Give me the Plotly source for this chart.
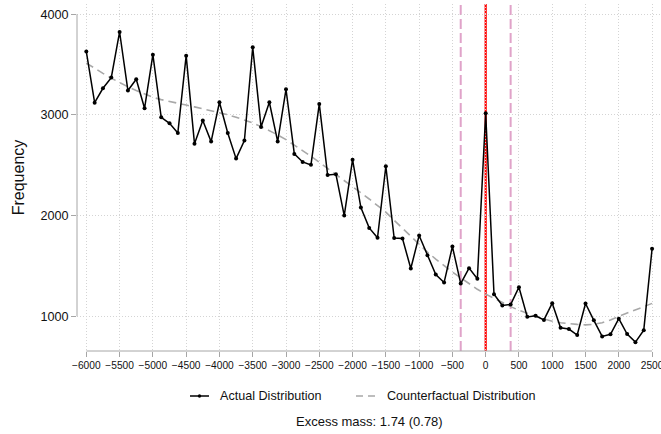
import plotly.graph_objects as go

# Bin grid (bin width 125) around the threshold at 0
bin_x = list(range(-6000, 2501, 125))

# Observed frequency per bin
actual_freq = [
    3629, 3122, 3265, 3371, 3824, 3242, 3354, 3066, 3599, 2977,
    2917, 2821, 3589, 2715, 2944, 2735, 3126, 2821, 2566, 2745,
    3672, 2881, 3126, 2735, 3255, 2613, 2533, 2504, 3109, 2404,
    2411, 2000, 2556, 2080, 1878, 1780, 2490, 1777, 1772, 1474,
    1802, 1607, 1415, 1335, 1693, 1325, 1478, 1372, 3017, 1219,
    1107, 1117, 1289, 994, 1004, 964, 1130, 886, 873, 814,
    1127, 960, 800, 821, 976, 824, 743, 862, 1671,
]

# Fitted counterfactual frequency per bin
counterfactual_freq = [
    3515, 3462, 3413, 3365, 3320, 3280, 3242, 3207, 3175, 3152,
    3132, 3114, 3098, 3080, 3062, 3044, 3025, 3002, 2977, 2950,
    2920, 2884, 2845, 2802, 2755, 2701, 2646, 2589, 2530, 2470,
    2410, 2350, 2290, 2228, 2165, 2100, 2035, 1953, 1872, 1790,
    1710, 1638, 1568, 1502, 1440, 1382, 1322, 1268, 1220, 1176,
    1135, 1096, 1060, 1028, 1000, 974, 950, 936, 926, 919,
    915, 920, 936, 962, 1000, 1030, 1062, 1095, 1128,
]

# Threshold and excluded window
threshold = 0
window_low, window_high = -375, 375

x_ticks = list(range(-6000, 2501, 500))
x_tick_text = [str(v).replace("-", "\u2212") for v in x_ticks]
y_ticks = [1000, 2000, 3000, 4000]
y_tick_text = [str(v) for v in y_ticks]

legend_labels = ["Actual Distribution", "Counterfactual Distribution"]
note_text = "Excess mass: 1.74 (0.78)"

W, H = 661, 434
ML, MR, MT, MB = 77, 0, 4, 83
PW, PH = W - ML - MR, H - MT - MB
X_RANGE = [-6140, 2634]
Y_RANGE = [655, 4102]

FONT = "Liberation Sans, Arial, Helvetica, sans-serif"
TXT = "#111111"
AXIS_GRAY = "#a6a6a6"
GRID = "#d4d4d4"


def px_x(p):
    return (p - ML) / PW


def px_y(p):
    return (H - MB - p) / PH


fig = go.Figure()

fig.add_trace(go.Scatter(
    x=bin_x, y=counterfactual_freq, mode="lines",
    line=dict(color="#a8a8a8", width=1.6, dash="8px,5px"),
    showlegend=False, hoverinfo="skip",
))
fig.add_trace(go.Scatter(
    x=bin_x, y=actual_freq, mode="lines+markers",
    line=dict(color="#000000", width=1.5),
    marker=dict(color="#000000", size=4),
    showlegend=False,
))

shapes = []
# threshold and window lines
shapes.append(dict(type="line", xref="x", yref="paper", x0=threshold, x1=threshold,
                   y0=0, y1=1, line=dict(color="#ff0000", width=2.2), layer="between"))
for xv in (window_low, window_high):
    shapes.append(dict(type="line", xref="x", yref="paper", x0=xv, x1=xv, y0=0, y1=1,
                       line=dict(color="#e0a3c9", width=2, dash="10px,4px"), layer="between"))
# axis lines spanning the tick range only
shapes.append(dict(type="line", xref="paper", yref="y", x0=0, x1=0,
                   y0=y_ticks[0], y1=y_ticks[-1], line=dict(color=AXIS_GRAY, width=1)))
shapes.append(dict(type="line", xref="x", yref="paper", x0=x_ticks[0], x1=x_ticks[-1],
                   y0=0, y1=0, line=dict(color=AXIS_GRAY, width=1)))

# legend keys
leg_y = px_y(396)
shapes.append(dict(type="line", xref="paper", yref="paper", x0=px_x(190), x1=px_x(209),
                   y0=leg_y, y1=leg_y, line=dict(color="#000000", width=1.5)))
shapes.append(dict(type="circle", xref="paper", yref="paper",
                   x0=px_x(197.8), x1=px_x(201.2), y0=px_y(397.7), y1=px_y(394.3),
                   fillcolor="#000000", line=dict(color="#000000", width=0)))
shapes.append(dict(type="line", xref="paper", yref="paper", x0=px_x(356), x1=px_x(375),
                   y0=leg_y, y1=leg_y, line=dict(color="#a8a8a8", width=1.6, dash="7px,5px")))

annotations = [
    dict(text=legend_labels[0], xref="paper", yref="paper", x=px_x(218), y=leg_y,
         xanchor="left", yanchor="middle", showarrow=False,
         font=dict(family=FONT, size=12.6, color=TXT)),
    dict(text=legend_labels[1], xref="paper", yref="paper", x=px_x(385), y=leg_y,
         xanchor="left", yanchor="middle", showarrow=False,
         font=dict(family=FONT, size=12.6, color=TXT)),
    dict(text=note_text, xref="paper", yref="paper", x=px_x(369.5), y=px_y(421),
         xanchor="center", yanchor="middle", showarrow=False,
         font=dict(family=FONT, size=13, color=TXT)),
]

fig.update_layout(
    width=W, height=H,
    margin=dict(l=ML, r=MR, t=MT, b=MB, pad=0),
    paper_bgcolor="white", plot_bgcolor="white",
    font=dict(family=FONT, color=TXT),
    showlegend=False,
    shapes=shapes,
    annotations=annotations,
    xaxis=dict(
        range=X_RANGE, tickmode="array", tickvals=x_ticks, ticktext=x_tick_text,
        ticks="outside", ticklen=5, tickcolor=AXIS_GRAY, tickwidth=1,
        tickfont=dict(family=FONT, size=10.2, color=TXT),
        ticklabeloverflow="allow",
        showgrid=True, gridcolor=GRID, griddash="1px,2px", gridwidth=1,
        zeroline=False, showline=False, automargin=False,
    ),
    yaxis=dict(
        range=Y_RANGE, tickmode="array", tickvals=y_ticks, ticktext=y_tick_text,
        ticks="outside", ticklen=5, tickcolor=AXIS_GRAY, tickwidth=1,
        tickfont=dict(family=FONT, size=12.6, color=TXT),
        showgrid=True, gridcolor=GRID, griddash="1px,2px", gridwidth=1,
        zeroline=False, showline=False, automargin=False,
        title=dict(text="Frequency", font=dict(family=FONT, size=16, color=TXT), standoff=11),
    ),
)

fig.write_html("out.html")
